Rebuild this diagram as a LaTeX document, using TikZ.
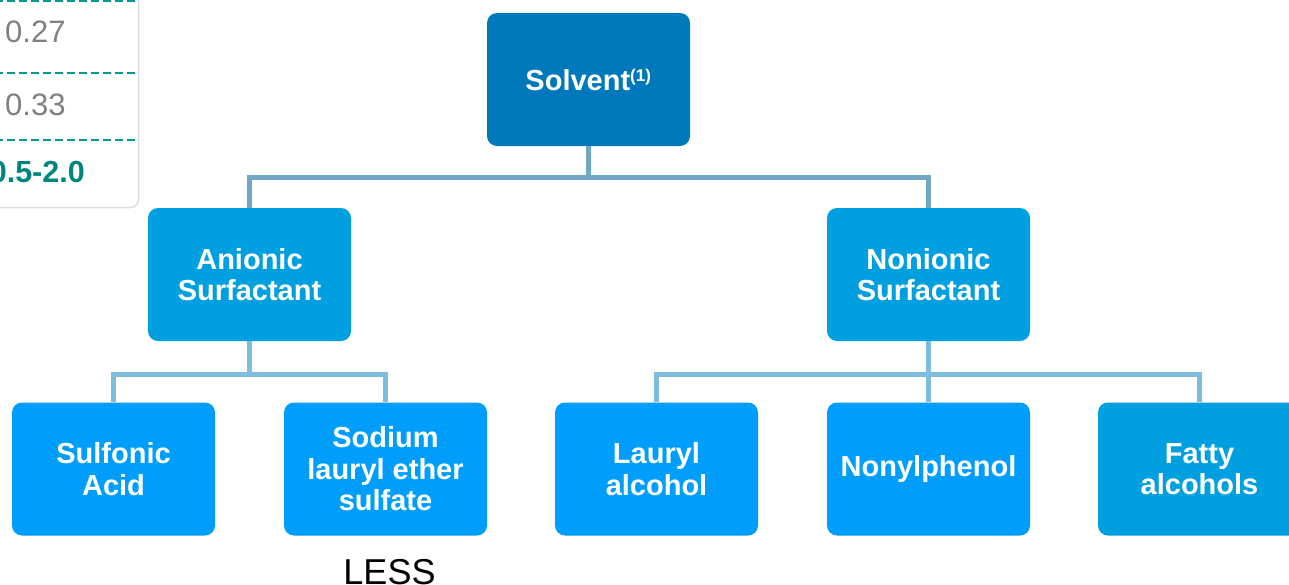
\documentclass[tikz,border=0pt]{standalone}
\usepackage{fontspec}
\setmainfont{Liberation Sans}
\begin{document}
\begin{tikzpicture}[x=1pt,y=-1pt,
  box/.style={rounded corners=10pt, minimum width=203pt, minimum height=133pt,
    text=white, font=\bfseries\fontsize{29}{31.5}\selectfont, align=center, inner sep=0pt},
  conna/.style={line width=5pt, draw=lineA},
  connb/.style={line width=5pt, draw=lineB},
  dashrow/.style={draw=teal1, line width=2.6pt, dash pattern=on 8pt off 4pt},
  numtxt/.style={font=\fontsize{31}{31}\selectfont, text=gray1, inner sep=0pt},
]
\definecolor{topblue}{HTML}{0079BC}
\definecolor{midblue}{HTML}{009FDF}
\definecolor{lowblue}{HTML}{009EFC}
\definecolor{fatblue}{HTML}{00A0E0}
\definecolor{lineA}{HTML}{6FA8C4}
\definecolor{lineB}{HTML}{7DBEDC}
\definecolor{teal1}{HTML}{009A94}
\definecolor{tealtxt}{HTML}{00857F}
\definecolor{gray1}{HTML}{808080}
\definecolor{bordgray}{HTML}{D6DEE6}
\useasboundingbox (0,0) rectangle (1289,584);
\clip (0,0) rectangle (1289,584);

% table fragment
\draw[draw=bordgray, line width=1.5pt, rounded corners=8pt] (-30,-30) rectangle (138.5,207.5);
\draw[dashrow] (-5,0.5) -- (137.5,0.5);
\draw[dashrow] (-5,73) -- (137.5,73);
\draw[dashrow] (-5,140) -- (137.5,140);
\node[numtxt, anchor=base west] (v1) at (5,42) {0.27};
\node[numtxt, anchor=base west] (v2) at (5,115.5) {0.33};
\node[numtxt, anchor=base east, text=tealtxt, font=\bfseries\fontsize{30.5}{30.5}\selectfont] (v3) at (85,182) {0.5-2.0};

% boxes
\node[box, fill=topblue] (solvent) at (588.5,79.5) {Solvent\textsuperscript{\fontsize{17}{17}\selectfont(1)}};
\node[box, fill=midblue] (anionic) at (249.5,274.5) {Anionic\\Surfactant};
\node[box, fill=midblue] (nonionic) at (928.5,274.5) {Nonionic\\Surfactant};
\node[box, fill=lowblue] (sulfonic) at (113.5,469) {Sulfonic\\Acid};
\node[box, fill=lowblue] (sodium) at (385.5,469) {Sodium\\lauryl ether\\sulfate};
\node[box, fill=lowblue] (lauryl) at (656.5,469) {Lauryl\\alcohol};
\node[box, fill=lowblue] (nonyl) at (928.5,469) {Nonylphenol};
\node[box, fill=fatblue] (fatty) at (1199.5,469) {Fatty\\alcohols};

% connectors
\draw[conna] (solvent.south) -- ++(0,31) coordinate (b1);
\draw[conna] (b1) -| (anionic.north);
\draw[conna] (b1) -| (nonionic.north);
\draw[connb] (anionic.south) -- ++(0,33) coordinate (b2);
\draw[connb] (b2) -| (sulfonic.north);
\draw[connb] (b2) -| (sodium.north);
\draw[connb] (nonionic.south) -- ++(0,33) coordinate (b3);
\draw[connb] (b3) -| (lauryl.north);
\draw[connb] (b3) -| (nonyl.north);
\draw[connb] (b3) -| (fatty.north);

\node[font=\fontsize{36}{36}\selectfont, anchor=base, inner sep=0pt] (less) at (389.5,584) {LESS};
\end{tikzpicture}
\end{document}
